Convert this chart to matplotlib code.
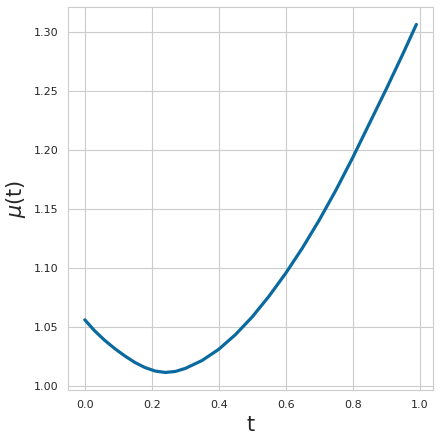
import matplotlib
matplotlib.use('Agg')
import matplotlib.pyplot as plt
import seaborn as sns

# values
t_vals = [0.00, 0.03, 0.06, 0.09, 0.12, 0.15, 0.18, 0.21, 0.24, 0.27, 0.30,
          0.35, 0.40, 0.45, 0.50, 0.55, 0.60, 0.65, 0.70, 0.75, 0.80,
          0.85, 0.90, 0.95, 0.99]
mu_vals = [1.056, 1.0465, 1.0385, 1.0315, 1.0253, 1.0198, 1.0155, 1.0126, 1.0114, 1.0122, 1.0148,
           1.0215, 1.031, 1.0435, 1.0585, 1.076, 1.0955, 1.117, 1.1405, 1.166, 1.1935,
           1.2225, 1.2515, 1.2815, 1.3063]

sns.set_style('whitegrid')

fig, ax = plt.subplots(figsize=(4.4, 4.4), dpi=100)
fig.subplots_adjust(left=0.155, right=0.984, top=0.984, bottom=0.114)

ax.plot(t_vals, mu_vals, color='#0a6aa0', lw=2.3, solid_capstyle='round')

ax.set_xlabel('t', fontsize=15)
ax.set_ylabel(r'$\mu$(t)', fontsize=15)
ax.tick_params(labelsize=8)

plt.savefig('out.png')
